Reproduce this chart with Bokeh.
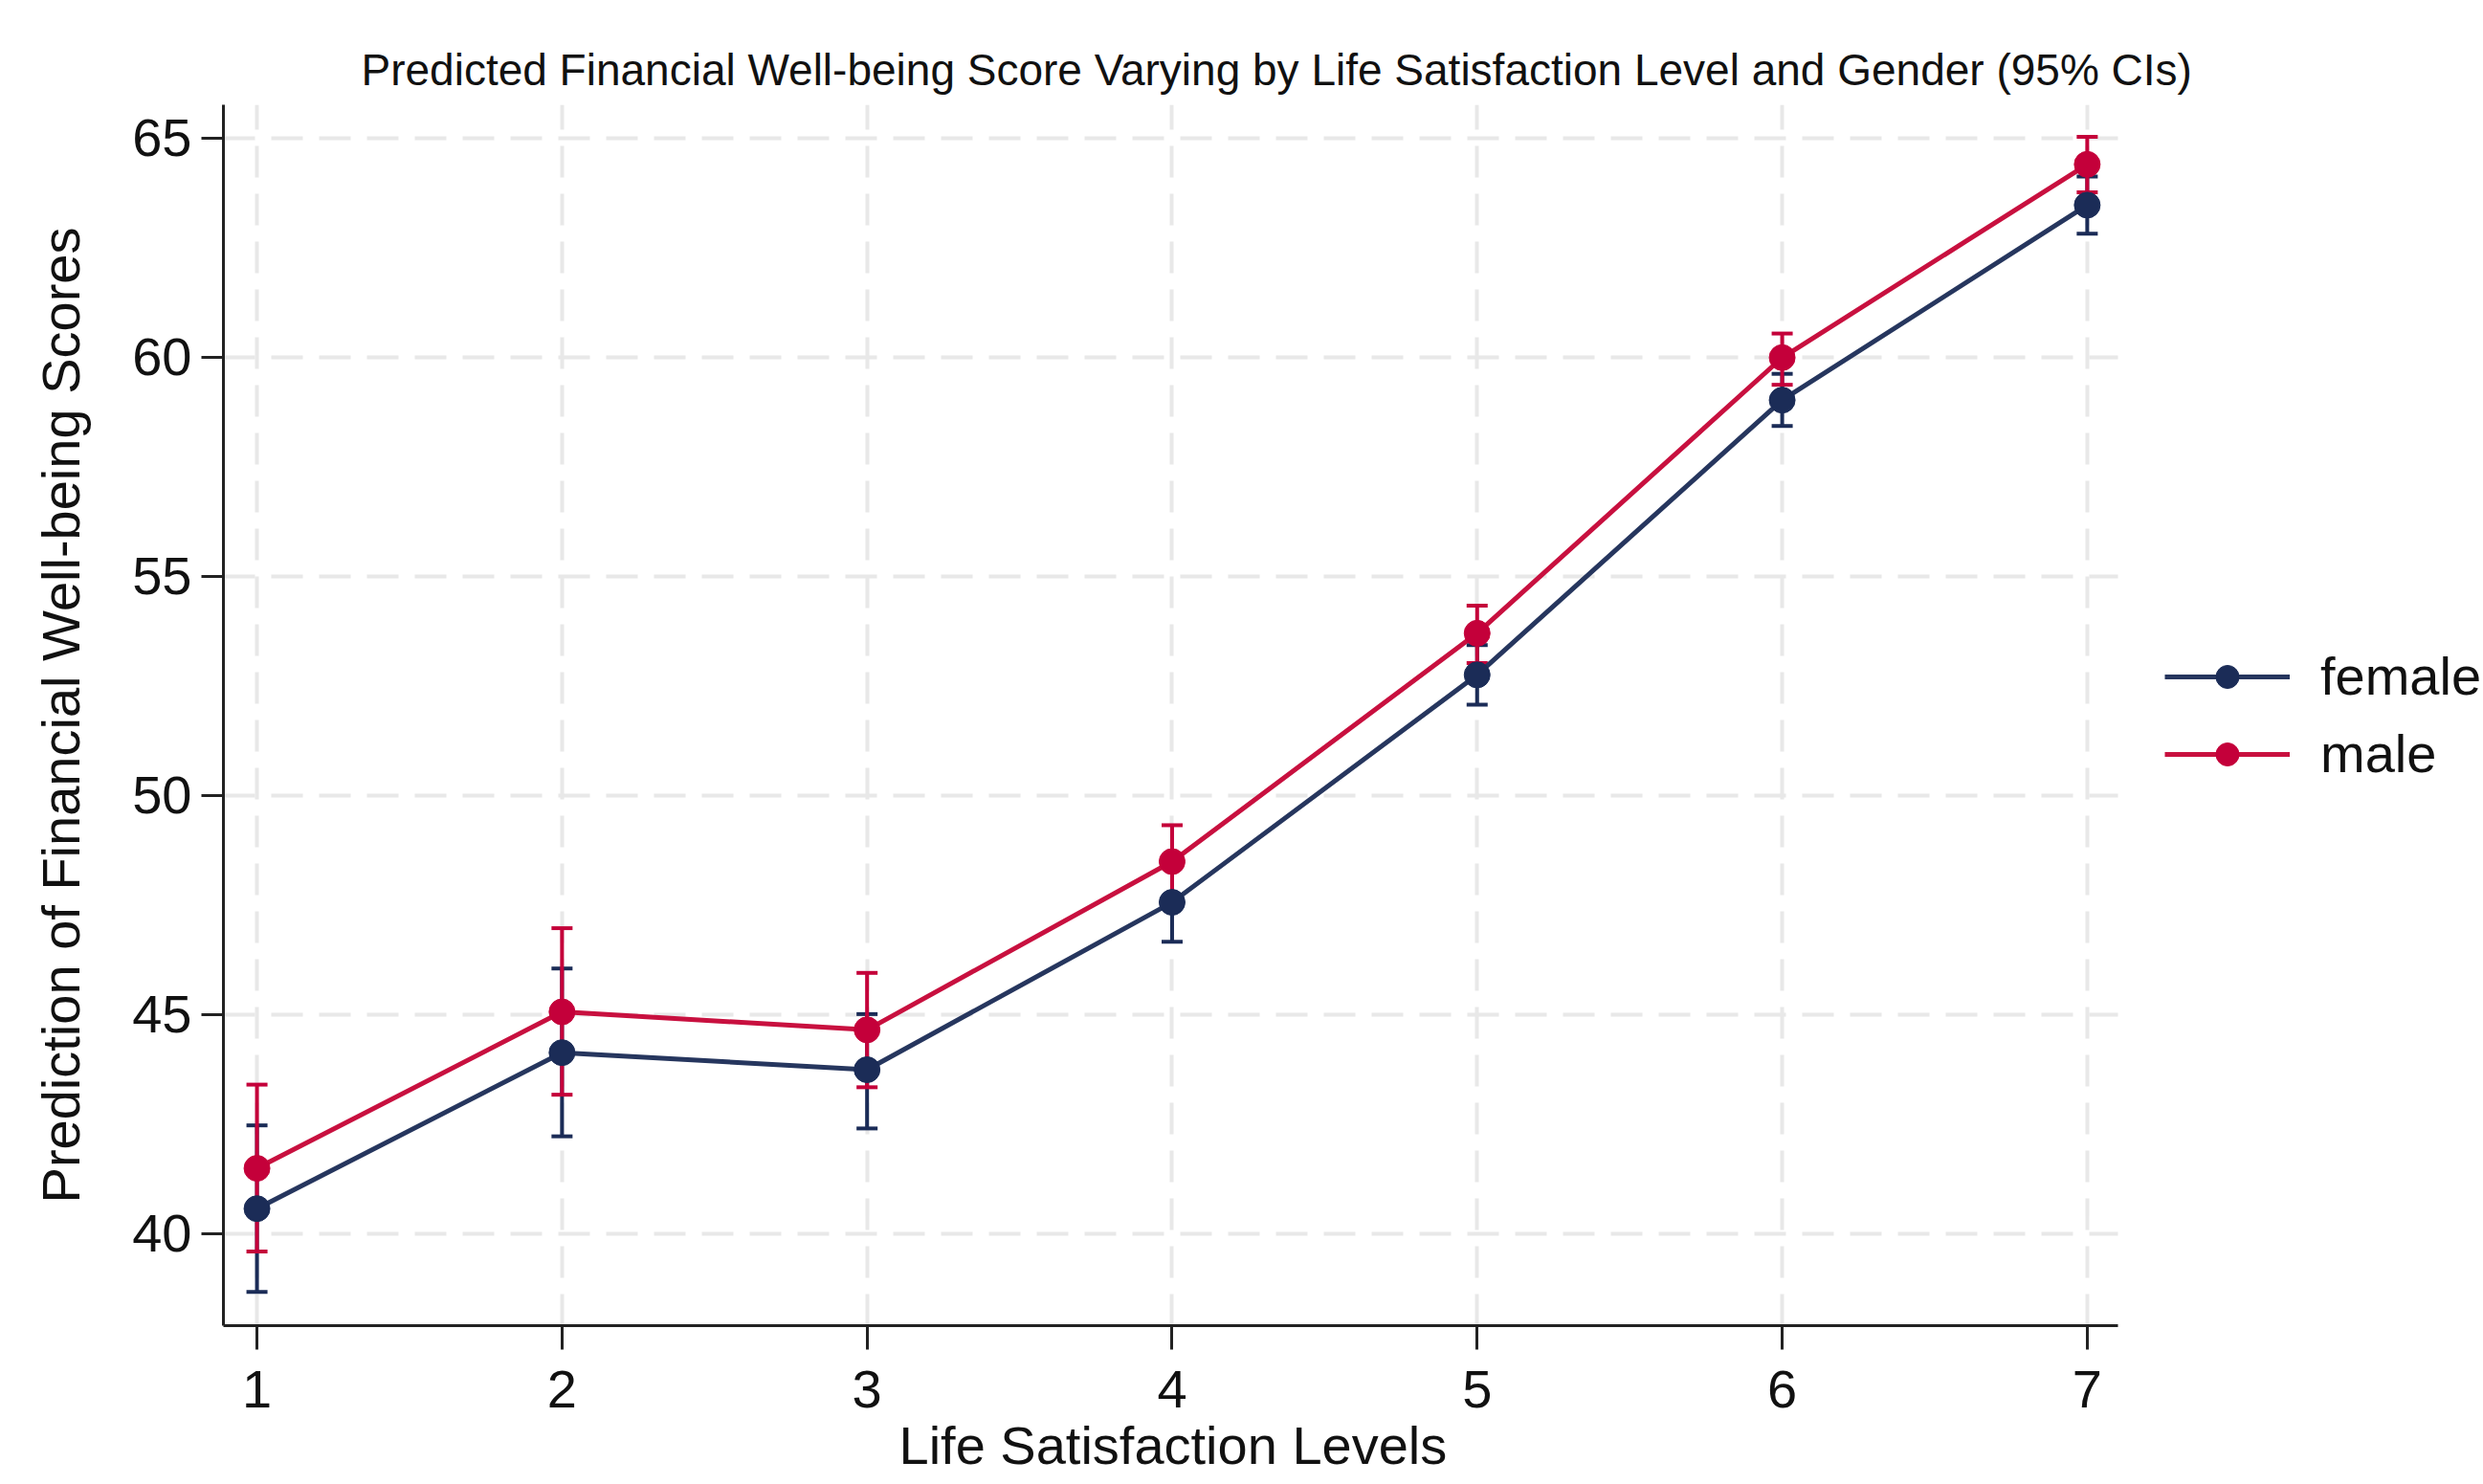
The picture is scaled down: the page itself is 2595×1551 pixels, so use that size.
from bokeh.plotting import figure
from bokeh.models import ColumnDataSource, Whisker, TeeHead, Legend, LegendItem, FixedTicker, Range1d, Title
from bokeh.embed import file_html
from bokeh.resources import INLINE

# ---- data ----
levels = [1, 2, 3, 4, 5, 6, 7]
female_pred = [40.57, 44.13, 43.74, 47.56, 52.75, 59.02, 63.47]
female_lo = [38.67, 42.22, 42.40, 46.66, 52.07, 58.43, 62.82]
female_hi = [42.47, 46.05, 45.01, 48.46, 53.43, 59.62, 64.12]
male_pred = [41.49, 45.06, 44.65, 48.49, 53.70, 59.99, 64.40]
male_lo = [39.59, 43.17, 43.34, 47.66, 53.02, 59.37, 63.76]
male_hi = [43.40, 46.97, 45.95, 49.32, 54.33, 60.54, 65.03]
y_ticks = [40, 45, 50, 55, 60, 65]
series_names = ["female", "male"]
title_text = "Predicted Financial Well-being Score Varying by Life Satisfaction Level and Gender (95% CIs)"
x_label = "Life Satisfaction Levels"
y_label = "Prediction of Financial Well-being Scores"

FONT = "Liberation Sans"
colors = {"female": "#1b2c57", "male": "#c4003a"}
line_colors = {"female": "#26365e", "male": "#c8103f"}

X_START, X_AXIS_END, X_FRAME_END = 0.89, 7.10, 8.299
Y_START, Y_END = 37.9, 65.76

p = figure(width=2595, height=1551, output_backend="svg", toolbar_location=None,
           x_range=Range1d(X_START, X_FRAME_END), y_range=Range1d(Y_START, Y_END),
           min_border_left=233, min_border_right=0, min_border_top=109, min_border_bottom=166)
p.outline_line_color = None
p.background_fill_color = "white"
p.border_fill_color = "white"

# title
p.title.text = title_text
p.title.align = "left"
p.title.offset = 144
p.title.text_font = FONT
p.title.text_font_size = "46px"
p.title.text_font_style = "normal"
p.title.text_color = "#111111"
p.title.standoff = 22

# grids
for g in (p.xgrid, p.ygrid):
    g.grid_line_color = "#e8e8e8"
    g.grid_line_width = 4
    g.grid_line_dash = "33 17"
try:
    p.ygrid.cross_bounds = (X_START, X_AXIS_END)
except Exception:
    pass

# axes
p.xaxis.ticker = FixedTicker(ticks=levels)
p.yaxis.ticker = FixedTicker(ticks=y_ticks)
p.xaxis.bounds = (X_START, X_AXIS_END)
for ax in (p.xaxis, p.yaxis):
    ax.axis_line_width = 3
    ax.axis_line_color = "#222222"
    ax.major_tick_line_width = 3
    ax.major_tick_line_color = "#222222"
    ax.minor_tick_line_color = None
    ax.major_tick_in = 0
    ax.major_label_text_font = FONT
    ax.major_label_text_font_size = "56px"
    ax.major_label_text_color = "#111111"
    ax.axis_label_text_font = FONT
    ax.axis_label_text_font_size = "56px"
    ax.axis_label_text_font_style = "normal"
    ax.axis_label_text_color = "#111111"
    ax.major_label_text_line_height = 1.0
p.xaxis.major_tick_out = 25
p.yaxis.major_tick_out = 23
p.xaxis.major_label_standoff = 22
p.yaxis.major_label_standoff = 10
p.yaxis.axis_label = y_label
p.yaxis.axis_label_standoff = 40
p.yaxis.major_label_orientation = "horizontal"

# x-axis title, centred under the (bounded) axis line
xt = Title(text=x_label, align="left", offset=706, standoff=6,
           text_font=FONT, text_font_size="56px", text_font_style="normal",
           text_color="#111111", text_baseline="alphabetic")
p.add_layout(xt, "below")

data = {
    "female": (female_pred, female_lo, female_hi),
    "male": (male_pred, male_lo, male_hi),
}
sources = {}
for name in series_names:
    pred, lo, hi = data[name]
    sources[name] = ColumnDataSource(dict(x=levels, y=pred, lower=lo, upper=hi))

# CIs
for name in series_names:
    c = colors[name]
    w = Whisker(base="x", lower="lower", upper="upper", source=sources[name],
                line_color=c, line_width=4,
                upper_head=TeeHead(size=22, line_color=c, line_width=4),
                lower_head=TeeHead(size=22, line_color=c, line_width=4))
    p.add_layout(w)

items = []
for name in series_names:
    c = colors[name]
    ln = p.line("x", "y", source=sources[name], line_color=line_colors[name], line_width=5)
    sc = p.scatter("x", "y", source=sources[name], size=27, fill_color=c, line_color=c)
    items.append(LegendItem(label=name, renderers=[ln, sc]))

legend = Legend(items=items, location=(2029, 565), orientation="vertical",
                glyph_width=131, glyph_height=60, spacing=16, label_standoff=32,
                padding=0, margin=0, border_line_color=None,
                background_fill_alpha=0,
                label_text_font=FONT, label_text_font_size="56px", label_text_color="#111111")
p.add_layout(legend)

open("out.html", "w").write(file_html(p, INLINE))
